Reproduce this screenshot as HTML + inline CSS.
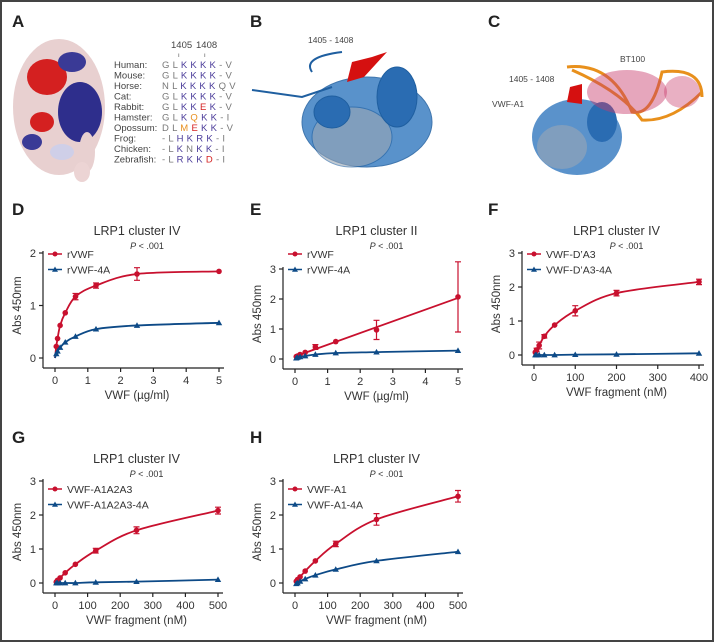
<!DOCTYPE html>
<html><head><meta charset="utf-8"><style>
html,body{margin:0;padding:0;background:#fff}
#fig{position:relative;width:714px;height:642px;box-sizing:border-box;border:2px solid #444;overflow:hidden;font-family:"Liberation Sans",sans-serif}
svg{position:absolute;left:0;top:0}
</style></head><body>
<div id="fig">
<svg id="s" width="714" height="642" viewBox="0 0 714 642">
<g>
<text x="10" y="25" font-size="17" font-weight="bold" fill="#222">A</text>
<g>
<ellipse cx="57" cy="105" rx="46" ry="68" fill="#e8d0d0"/>
<ellipse cx="78" cy="110" rx="22" ry="30" fill="#2e2e8c"/>
<ellipse cx="45" cy="75" rx="20" ry="18" fill="#d42020"/>
<ellipse cx="40" cy="120" rx="12" ry="10" fill="#d42020"/>
<ellipse cx="70" cy="60" rx="14" ry="10" fill="#3a3a96"/>
<ellipse cx="30" cy="140" rx="10" ry="8" fill="#3a3a96"/>
<ellipse cx="60" cy="150" rx="12" ry="8" fill="#cfcfe8"/>
<ellipse cx="85" cy="150" rx="8" ry="20" fill="#e8d0d0"/>
<ellipse cx="80" cy="170" rx="8" ry="10" fill="#ecd4d4"/>
</g>
<g font-size="9.5" fill="#444">
<text x="169" y="46">1405</text><text x="194" y="46">1408</text>
<text x="176" y="55" font-size="6">ı</text><text x="202" y="55" font-size="6">ı</text>
<text x="112" y="66">Human:</text><text x="112" y="76.5">Mouse:</text><text x="112" y="87">Horse:</text><text x="112" y="97.5">Cat:</text><text x="112" y="108">Rabbit:</text><text x="112" y="118.5">Hamster:</text><text x="112" y="129">Opossum:</text><text x="112" y="139.5">Frog:</text><text x="112" y="150">Chicken:</text><text x="112" y="160.5">Zebrafish:</text>
<g letter-spacing="0.3">
<text x="160" y="66" fill="#777">G L <tspan fill="#4b3c9a">K K K K</tspan> - V</text>
<text x="160" y="76.5" fill="#777">G L <tspan fill="#4b3c9a">K K K K</tspan> - V</text>
<text x="160" y="87" fill="#777">N L <tspan fill="#4b3c9a">K K K K</tspan> Q V</text>
<text x="160" y="97.5" fill="#777">G L <tspan fill="#4b3c9a">K K K K</tspan> - V</text>
<text x="160" y="108" fill="#777">G L <tspan fill="#4b3c9a">K K</tspan> <tspan fill="#d42020">E</tspan> <tspan fill="#4b3c9a">K</tspan> - V</text>
<text x="160" y="118.5" fill="#777">G L <tspan fill="#4b3c9a">K</tspan> <tspan fill="#e89020">Q</tspan> <tspan fill="#4b3c9a">K K</tspan> - I</text>
<text x="160" y="129" fill="#777">D L <tspan fill="#e89020">M</tspan> <tspan fill="#d42020">E</tspan> <tspan fill="#4b3c9a">K K</tspan> - V</text>
<text x="160" y="139.5" fill="#777">- L <tspan fill="#4b3c9a">H K R K</tspan> - I</text>
<text x="160" y="150" fill="#777">- L <tspan fill="#4b3c9a">K</tspan> N <tspan fill="#4b3c9a">K K</tspan> - I</text>
<text x="160" y="160.5" fill="#777">- L <tspan fill="#4b3c9a">R K K</tspan> <tspan fill="#d42020">D</tspan> - I</text>
</g>
</g>
</g>
<g>
<text x="248" y="25" font-size="17" font-weight="bold" fill="#222">B</text>
<text x="306" y="41" font-size="8.5" fill="#444">1405 - 1408</text>
<g fill="#2f73b8" stroke="#1f5fa0">
<ellipse cx="365" cy="120" rx="65" ry="45" fill="#3d7fc2" opacity="0.85"/>
<ellipse cx="350" cy="135" rx="40" ry="30" fill="#9aa7b5" opacity="0.6"/>
<ellipse cx="395" cy="95" rx="20" ry="30" fill="#2a6cb2"/>
<ellipse cx="330" cy="110" rx="18" ry="16" fill="#2a6cb2"/>
<path d="M250 88 L300 95 L330 85" fill="none" stroke-width="2"/>
<path d="M310 70 Q300 55 340 50" fill="none" stroke-width="2"/>
</g>
<path d="M350 60 L370 55 L385 50 L362 75 L345 80" fill="#d51010"/>
</g>
<g>
<text x="486" y="25" font-size="17" font-weight="bold" fill="#222">C</text>
<text x="507" y="80" font-size="8.5" fill="#444">1405 - 1408</text>
<text x="490" y="105" font-size="8.5" fill="#444">VWF-A1</text>
<text x="618" y="60" font-size="8.5" fill="#444">BT100</text>
<g>
<ellipse cx="575" cy="135" rx="45" ry="38" fill="#3d7fc2" opacity="0.85"/>
<ellipse cx="560" cy="145" rx="25" ry="22" fill="#9aa7b5" opacity="0.6"/>
<ellipse cx="600" cy="120" rx="15" ry="20" fill="#2a6cb2"/>
</g>
<g>
<path d="M565 65 Q610 60 630 110 Q650 115 660 70 Q700 65 700 95" fill="none" stroke="#e8901c" stroke-width="3"/>
<path d="M570 68 Q620 90 640 118 Q670 120 700 90" fill="none" stroke="#e8901c" stroke-width="3"/>
<ellipse cx="625" cy="90" rx="40" ry="22" fill="#c83a6a" opacity="0.45"/>
<ellipse cx="680" cy="90" rx="18" ry="16" fill="#c83a6a" opacity="0.4"/>
</g>
<path d="M568 85 L580 82 L580 102 L565 100" fill="#d51010"/>
</g>
</svg>
</div>
<script>
// Panel D
const dX=[0.039,0.078,0.156,0.3125,0.625,1.25,2.5,5];
const dRed=[0.22,0.37,0.62,0.86,1.17,1.38,1.6,1.65];
const dRedErr=[0.03,0.03,0.03,0.03,0.06,0.05,0.12,0.02];
const dBlue=[0.08,0.13,0.2,0.3,0.41,0.55,0.62,0.67];
const dXTicks=[0,1,2,3,4,5];
const dYTicks=[0,1,2];
// Panel E
const eX=[0.039,0.078,0.156,0.3125,0.625,1.25,2.5,5];
const eRed=[0.08,0.1,0.15,0.22,0.4,0.58,0.97,2.07];
const eRedErr=[0.02,0.02,0.03,0.04,0.08,0.03,0.32,1.17];
const eBlue=[0.03,0.05,0.07,0.1,0.15,0.2,0.23,0.28];
const eXTicks=[0,1,2,3,4,5];
const eYTicks=[0,1,2,3];
// Panel F
const fX=[3.125,6.25,12.5,25,50,100,200,400];
const fRed=[0.08,0.15,0.28,0.55,0.88,1.3,1.82,2.15];
const fRedErr=[0.03,0.05,0.1,0.05,0.04,0.15,0.08,0.08];
const fBlue=[0,0,0,0,0,0.01,0.02,0.05];
const fXTicks=[0,100,200,300,400];
const fYTicks=[0,1,2,3];
// Panel G
const gX=[3.9,7.8,15.6,31.25,62.5,125,250,500];
const gRed=[0.03,0.08,0.15,0.3,0.55,0.95,1.55,2.13];
const gRedErr=[0.02,0.03,0.04,0.04,0.03,0.07,0.1,0.1];
const gBlue=[0,0,0,0,0,0.02,0.04,0.1];
const gXTicks=[0,100,200,300,400,500];
const gYTicks=[0,1,2,3];
// Panel H
const hX=[3.9,7.8,15.6,31.25,62.5,125,250,500];
const hRed=[0.05,0.1,0.18,0.35,0.65,1.15,1.87,2.55];
const hRedErr=[0.02,0.03,0.04,0.04,0.04,0.08,0.17,0.17];
const hBlue=[-0.02,0.0,0.05,0.12,0.23,0.4,0.65,0.92];
const hXTicks=[0,100,200,300,400,500];
const hYTicks=[0,1,2,3];

const NS='http://www.w3.org/2000/svg';
const svg=document.getElementById('s');
const RED='#c8102e',BLUE='#0d4a87';
function mk(tag,attrs,parent){const e=document.createElementNS(NS,tag);for(const k in attrs)e.setAttribute(k,attrs[k]);parent.appendChild(e);return e;}
function txt(s,attrs,parent){const e=mk('text',attrs,parent);e.textContent=s;return e;}

function chart(o){
  const g=mk('g',{},svg);
  
  
  const sx=v=>o.x0+(v-o.xmin)/(o.xmax-o.xmin)*(o.x1-o.x0);
  const sy=v=>o.y0-(v-o.ymin)/(o.ymax-o.ymin)*(o.y0-o.y1);
  const lab=txt(o.id.toUpperCase(),{x:o.lx,y:o.ly,'font-size':17,'font-weight':'bold',fill:'#222'},g);
  
  
  const cx=(o.x0+o.x1)/2;
  const t=txt(o.title,{x:cx,y:o.ty,'font-size':12.5,'text-anchor':'middle',fill:'#333'},g);
  
  
  const p=mk('text',{x:cx+10,y:o.ty+14,'font-size':9,'text-anchor':'middle',fill:'#333'},g);
  p.innerHTML='<tspan font-style="italic">P</tspan> &lt; .001';
  
  
  const ax=o.x0-12, ay=o.y0+10;
  const axes=mk('g',{stroke:'#222','stroke-width':1.2},g);
  
  
  mk('line',{x1:ax,y1:o.y1-2,x2:ax,y2:ay},axes);
  mk('line',{x1:ax,y1:ay,x2:o.x1+5,y2:ay},axes);
  o.yt.forEach(v=>{const y=sy(v);mk('line',{x1:ax-4,y1:y,x2:ax,y2:y},axes);
    const l=txt(String(v),{x:ax-7,y:y+4,'font-size':11,'text-anchor':'end',fill:'#333',stroke:'none'},g);
    
    });
  o.xt.forEach(v=>{const x=sx(v);mk('line',{x1:x,y1:ay,x2:x,y2:ay+4},axes);
    const l=txt(String(v),{x:x,y:ay+16,'font-size':11,'text-anchor':'middle',fill:'#333',stroke:'none'},g);
    
    });
  const xt=txt(o.xlabel,{x:cx,y:ay+31,'font-size':11.5,'text-anchor':'middle',fill:'#333'},g);
  
  
  const ymid=(o.y0+o.y1)/2;
  const yt=txt('Abs 450nm',{x:ax-22,y:ymid,'font-size':11.5,'text-anchor':'middle',fill:'#333',transform:`rotate(-90 ${ax-22} ${ymid})`},g);
  
  
  [[o.red,o.err,RED,'circle',o.n1],[o.blue,null,BLUE,'tri',o.n2]].forEach(([vals,err,col,shape,name],si)=>{
    const sg=mk('g',{},g);
    
    
    let d;
    if(o.linear&&si===0){
      const n=o.xs.length;let mx=0,my=0;o.xs.forEach((x,i)=>{mx+=x;my+=vals[i];});mx/=n;my/=n;
      let num=0,den=0;o.xs.forEach((x,i)=>{num+=(x-mx)*(vals[i]-my);den+=(x-mx)*(x-mx);});
      const b=num/den,a=my-b*mx;
      d=`M${sx(o.xs[0])},${sy(a+b*o.xs[0])}L${sx(o.xs[n-1])},${sy(a+b*o.xs[n-1])}`;
    } else {
      const pts=[[sx(0),sy(0)]].concat(o.xs.map((x,i)=>[sx(x),sy(vals[i])]));
      d='M'+pts[0][0]+','+pts[0][1];
      for(let i=1;i<pts.length;i++){
        const p0=pts[Math.max(0,i-2)],p1=pts[i-1],p2=pts[i],p3=pts[Math.min(pts.length-1,i+1)];
        const c1=[p1[0]+(p2[0]-p0[0])/6,p1[1]+(p2[1]-p0[1])/6],c2=[p2[0]-(p3[0]-p1[0])/6,p2[1]-(p3[1]-p1[1])/6];
        d+=`C${c1[0]},${c1[1]} ${c2[0]},${c2[1]} ${p2[0]},${p2[1]}`;
      }
    }
    mk('path',{d:d,fill:'none',stroke:col,'stroke-width':1.8},sg);
    o.xs.forEach((x,i)=>{
      const X=sx(x),Y=sy(vals[i]);
      if(err&&err[i]>0.04){const e1=sy(vals[i]+err[i]),e2=sy(vals[i]-err[i]);
        mk('path',{d:`M${X},${e1}V${e2}M${X-3},${e1}h6M${X-3},${e2}h6`,stroke:col,'stroke-width':1.2,fill:'none'},sg);}
      let m;
      if(shape==='circle')m=mk('circle',{cx:X,cy:Y,r:2.8,fill:col},sg);
      else m=mk('path',{d:`M${X},${Y-3.2}L${X+3.2},${Y+2.4}L${X-3.2},${Y+2.4}Z`,fill:col},sg);
      
      
    });
  });
  const lg=mk('g',{},g);
  
  
  [[o.n1,RED,'c'],[o.n2,BLUE,'t']].forEach(([n,c,s],i)=>{
    const y=o.legy+i*15.5,lx=ax+5;
    const e=mk('g',{},lg);
    
    
    mk('line',{x1:lx,y1:y,x2:lx+14,y2:y,stroke:c,'stroke-width':1.5},e);
    if(s==='c')mk('circle',{cx:lx+7,cy:y,r:2.5,fill:c},e);
    else mk('path',{d:`M${lx+7},${y-3}L${lx+10},${y+2.2}L${lx+4},${y+2.2}Z`,fill:c},e);
    txt(n,{x:lx+19,y:y+4,'font-size':10.5,fill:'#333'},e);
  });
}
chart({id:'d',lx:10,ly:213,ty:233,legy:252,title:'LRP1 cluster IV',xlabel:'VWF (\u00b5g/ml)',x0:53,x1:217,y0:356,y1:251,xmin:0,xmax:5,ymin:0,ymax:2,xs:dX,red:dRed,err:dRedErr,blue:dBlue,xt:dXTicks,yt:dYTicks,n1:'rVWF',n2:'rVWF-4A'});
chart({id:'e',lx:248,ly:213,ty:233,legy:252,title:'LRP1 cluster II',xlabel:'VWF (\u00b5g/ml)',x0:293,x1:456,y0:357,y1:267,xmin:0,xmax:5,ymin:0,ymax:3,xs:eX,red:eRed,err:eRedErr,blue:eBlue,xt:eXTicks,yt:eYTicks,n1:'rVWF',n2:'rVWF-4A',linear:true});
chart({id:'f',lx:486,ly:213,ty:233,legy:252,title:'LRP1 cluster IV',xlabel:'VWF fragment (nM)',x0:532,x1:697,y0:353,y1:251,xmin:0,xmax:400,ymin:0,ymax:3,xs:fX,red:fRed,err:fRedErr,blue:fBlue,xt:fXTicks,yt:fYTicks,n1:'VWF-D\u2019A3',n2:'VWF-D\u2019A3-4A'});
chart({id:'g',lx:10,ly:441,ty:461,legy:487,title:'LRP1 cluster IV',xlabel:'VWF fragment (nM)',x0:53,x1:216,y0:581,y1:479,xmin:0,xmax:500,ymin:0,ymax:3,xs:gX,red:gRed,err:gRedErr,blue:gBlue,xt:gXTicks,yt:gYTicks,n1:'VWF-A1A2A3',n2:'VWF-A1A2A3-4A'});
chart({id:'h',lx:248,ly:441,ty:461,legy:487,title:'LRP1 cluster IV',xlabel:'VWF fragment (nM)',x0:293,x1:456,y0:581,y1:479,xmin:0,xmax:500,ymin:0,ymax:3,xs:hX,red:hRed,err:hRedErr,blue:hBlue,xt:hXTicks,yt:hYTicks,n1:'VWF-A1',n2:'VWF-A1-4A'});
</script>
</body></html>
